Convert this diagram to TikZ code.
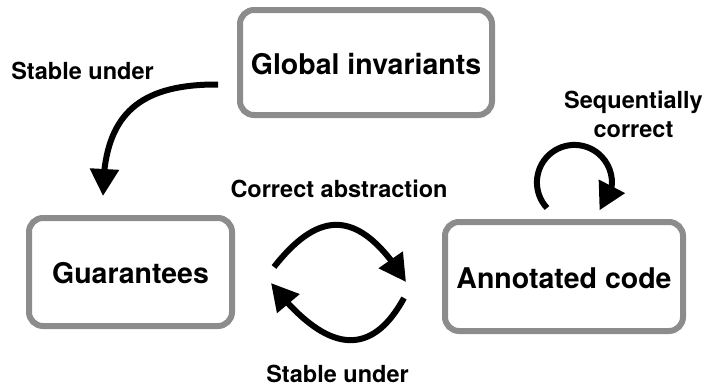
\documentclass[tikz,border=0pt]{standalone}
\usepackage{fontspec}
\setmainfont{TeX Gyre Heros}
\usetikzlibrary{arrows.meta,bending,calc}
\definecolor{boxgray}{RGB}{140,140,140}
\tikzset{
  box/.style={draw=boxgray, line width=6pt, rounded corners=14pt, inner sep=0pt,
    font=\fontsize{28.5}{34}\selectfont\bfseries, text height=23pt, text depth=0pt, align=center},
  lab/.style={inner sep=0pt, font=\fontsize{23.5}{29}\selectfont\bfseries, align=center},
  arr/.style={line width=6pt, -{Triangle[length=27pt,width=28pt,flex]}}
}
\begin{document}
\begin{tikzpicture}[x=1pt,y=-1pt]
\useasboundingbox (0,0) rectangle (706,388);
\node[box, minimum width=252pt, minimum height=105pt] (gi) at (366,62.5) {Global invariants};
\node[box, minimum width=203pt, minimum height=108pt] (gu) at (130.5,272) {Guarantees};
\node[box, minimum width=238pt, minimum height=109pt] (an) at (564,276.5) {Annotated code};

\node[lab, anchor=base] (l1) at (82.5,79) {Stable under};
\node[lab, anchor=base] (l2) at (339,197) {Correct abstraction};
\node[lab, anchor=base] (l3) at (337.5,382) {Stable under};
\node[lab, anchor=south] (l4) at (633.5,138) {Sequentially\\correct};

\draw[arr] ($(gi.west)+(-19,22)$) .. controls (135,84) and (103,118) .. ($(gu.north)+(-27.5,-19)$);
\draw[arr] ($(gu.east)+(39,-5)$) .. controls (320,208.5) and (360,208.5) .. ($(an.west)+(-36,5.5)$);
\draw[arr] ($(an.west)+(-38,21.5)$) .. controls (372,356.5) and (328,356.5) .. ($(gu.east)+(36,11)$);
\draw[arr] ($(an.north)+(-17,-11)$) arc[start angle=223, end angle=-48, radius=37.5pt];
\end{tikzpicture}
\end{document}
